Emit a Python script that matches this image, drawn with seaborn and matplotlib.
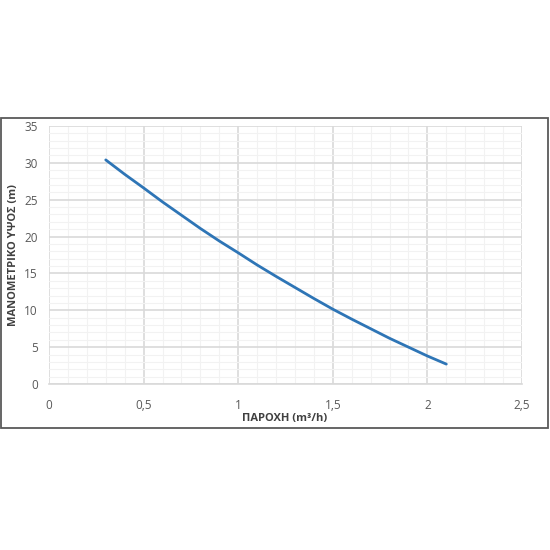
import matplotlib
matplotlib.use('Agg')
import matplotlib.pyplot as plt
from matplotlib.patches import Rectangle
from matplotlib.ticker import MultipleLocator
import seaborn as sns
import pandas as pd

# ── data ─────────────────────────────────────────────────────────────────
flow = [0.3, 0.4, 0.5, 0.6, 0.7, 0.8, 0.9, 1.0, 1.1, 1.2, 1.3, 1.4,
        1.5, 1.6, 1.7, 1.8, 1.9, 2.0, 2.1]
head = [30.4, 28.45, 26.6, 24.7, 22.9, 21.1, 19.4, 17.8, 16.15, 14.6, 13.1,
        11.6, 10.15, 8.8, 7.5, 6.2, 5.0, 3.8, 2.7]
x_ticks = [0, 0.5, 1, 1.5, 2, 2.5]
x_tick_labels = ['0', '0,5', '1', '1,5', '2', '2,5']
y_ticks = [0, 5, 10, 15, 20, 25, 30, 35]

df = pd.DataFrame({'flow': flow, 'head': head})

sns.set_style('white')
plt.rcParams['font.family'] = ['Open Sans', 'DejaVu Sans']

fig = plt.figure(figsize=(5.5, 5.5), dpi=100)
fig.patch.set_facecolor('white')

# outer chart frame
fig.patches.append(Rectangle((0.002, 1 - 428 / 550), 0.994, 310 / 550,
                             transform=fig.transFigure, fill=False,
                             edgecolor='#595959', linewidth=1.3))

ax = fig.add_axes([49 / 550, 1 - 384 / 550, 473 / 550, 258 / 550])
sns.lineplot(data=df, x='flow', y='head', ax=ax, color='#2E75B6', linewidth=2)

ax.set_xlim(0, 2.5)
ax.set_ylim(0, 35)
ax.set_xticks(x_ticks)
ax.set_xticklabels(x_tick_labels)
ax.set_yticks(y_ticks)
ax.xaxis.set_minor_locator(MultipleLocator(0.1))
ax.yaxis.set_minor_locator(MultipleLocator(1))

ax.grid(which='major', color='#d9d9d9', linewidth=1.2)
ax.grid(which='minor', color='#f2f2f2', linewidth=0.8)
ax.set_axisbelow(True)

for s in ['top', 'right', 'left']:
    ax.spines[s].set_visible(False)
ax.spines['bottom'].set_color('#d9d9d9')
ax.spines['bottom'].set_linewidth(1.2)

ax.tick_params(axis='x', which='major', length=4, color='#d9d9d9',
               labelsize=8.5, labelcolor='#595959', pad=7)
ax.tick_params(axis='y', which='major', length=0,
               labelsize=8.5, labelcolor='#595959', pad=8)
ax.tick_params(which='minor', length=0)
ax.set_xlabel('')
ax.set_ylabel('')

fig.text(285 / 550, 1 - 418 / 550, 'ΠΑΡΟΧΗ (m³/h)', fontsize=8,
         fontweight='bold', color='#404040', ha='center', va='center')
fig.text(14 / 550, 1 - 255 / 550, 'ΜΑΝΟΜΕΤΡΙΚΟ ΥΨΟΣ (m)', fontsize=8,
         fontweight='bold', color='#404040', ha='center', va='center',
         rotation=90)

plt.savefig('out.png', dpi=100)
plt.close()
